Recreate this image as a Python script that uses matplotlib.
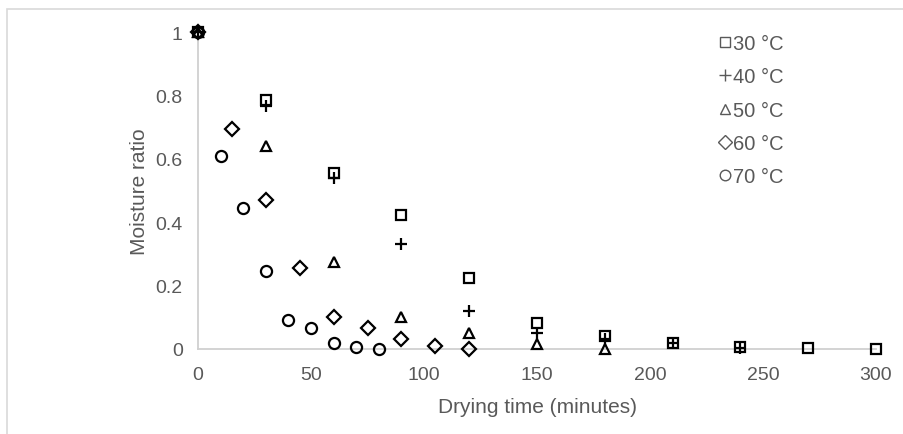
import matplotlib
matplotlib.use("Agg")
import matplotlib.pyplot as plt
from matplotlib.patches import Rectangle

plt.rcParams['font.family'] = ['Liberation Sans', 'DejaVu Sans']

# drying time (minutes) and moisture ratio
t30 = [0, 30, 60, 90, 120, 150, 180, 210, 240, 270, 300]
mr30 = [1.0, 0.785, 0.554, 0.424, 0.225, 0.082, 0.042, 0.019, 0.007, 0.002, 0.0]
t40 = [0, 30, 60, 90, 120, 150, 180, 210, 240]
mr40 = [1.0, 0.765, 0.54, 0.33, 0.12, 0.05, 0.03, 0.02, 0.004]
t50 = [0, 30, 60, 90, 120, 150, 180]
mr50 = [1.0, 0.64, 0.275, 0.1, 0.05, 0.016, 0.0]
t60 = [0, 15, 30, 45, 60, 75, 90, 105, 120]
mr60 = [1.0, 0.695, 0.47, 0.255, 0.1, 0.065, 0.03, 0.01, 0.0]
t70 = [0, 10, 20, 30, 40, 50, 60, 70, 80]
mr70 = [1.0, 0.61, 0.445, 0.245, 0.09, 0.065, 0.02, 0.005, 0.0]

labels = ["30 °C", "40 °C", "50 °C", "60 °C", "70 °C"]

grey = "#595959"
axis_grey = "#d0d0d0"

fig = plt.figure(figsize=(9.04, 4.35), dpi=100)
ax = fig.add_axes([198 / 904, 1 - 350 / 435, 678 / 904, 317 / 435])

# outer chart frame (top and left edges visible in the picture)
fig.patches.append(Rectangle((7 / 904, -0.05), 1.2, 1 - 10 / 435 + 0.05,
                             transform=fig.transFigure, fill=False,
                             edgecolor="#d9d9d9", linewidth=1.2))

common = dict(linestyle="none", markerfacecolor="none", markeredgecolor="black",
              clip_on=False, zorder=3)
ax.plot(t30, mr30, marker="s", markersize=7.5, markeredgewidth=1.6, label=labels[0], **common)
ax.plot(t40, mr40, marker="+", markersize=9, markeredgewidth=1.6, label=labels[1], **common)
ax.plot(t50, mr50, marker="^", markersize=7.5, markeredgewidth=1.6, label=labels[2], **common)
ax.plot(t60, mr60, marker="D", markersize=7, markeredgewidth=1.6, label=labels[3], **common)
ax.plot(t70, mr70, marker="o", markersize=8, markeredgewidth=1.6, label=labels[4], **common)

ax.set_xlim(0, 300)
ax.set_ylim(0, 1)
ax.set_xticks([0, 50, 100, 150, 200, 250, 300])
ax.set_yticks([0, 0.2, 0.4, 0.6, 0.8, 1.0])
ax.set_yticklabels(["0", "0.2", "0.4", "0.6", "0.8", "1"])
ax.tick_params(length=0, labelsize=14, colors=grey)
ax.tick_params(axis="x", pad=12)
ax.tick_params(axis="y", pad=11)

for side in ["top", "right"]:
    ax.spines[side].set_visible(False)
for side in ["left", "bottom"]:
    ax.spines[side].set_color(axis_grey)
    ax.spines[side].set_linewidth(1.3)

ax.set_xlabel("Drying time (minutes)", fontsize=15, color=grey, labelpad=10)
ax.set_ylabel("Moisture ratio", fontsize=15, color=grey, labelpad=5)

leg = fig.legend(loc="upper left", bbox_to_anchor=(711 / 904, 1 - 27 / 435),
                 frameon=False, fontsize=14.5, labelcolor=grey, handlelength=0.6,
                 handletextpad=0.1, labelspacing=0.71, markerscale=0.95,
                 borderaxespad=0)
for h in leg.legend_handles:
    h.set_markeredgewidth(1.0)
    h.set_markeredgecolor(grey)

fig.savefig("out.png", dpi=100)
